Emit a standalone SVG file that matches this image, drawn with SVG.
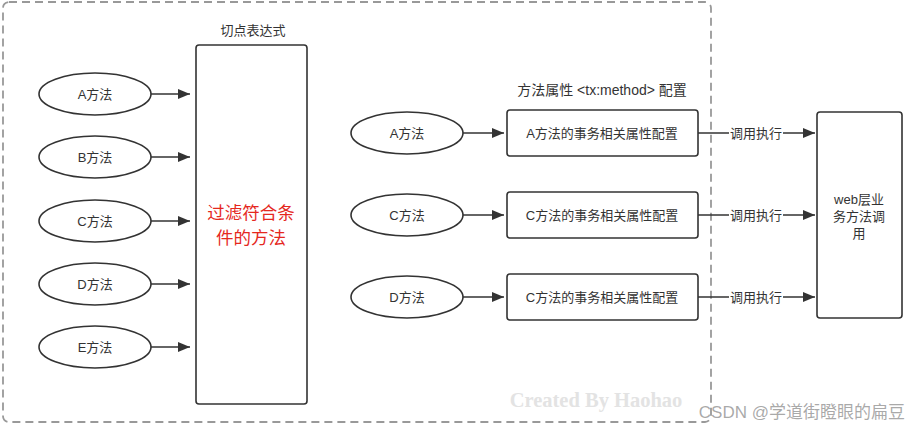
<svg xmlns="http://www.w3.org/2000/svg" width="908" height="428" viewBox="0 0 908 428">
<defs>
<style>
.t{font-family:"Liberation Sans","Noto Sans CJK SC",sans-serif;font-size:13px;fill:#333;text-anchor:middle;dominant-baseline:central}
.n{fill:#fff;stroke:#333;stroke-width:1.6}
.c{stroke:#333;stroke-width:1.6;fill:none;marker-end:url(#ah)}
</style>
<marker id="ah" viewBox="0 0 12 10" refX="12" refY="5" markerWidth="12" markerHeight="10" markerUnits="userSpaceOnUse" orient="auto">
<path d="M0,0 L12,5 L0,10 Z" fill="#333"/>
</marker>
</defs>
<rect width="908" height="428" fill="#fff"/>
<rect x="3" y="2" width="708" height="420" rx="6" fill="none" stroke="#999" stroke-width="1.8" stroke-dasharray="8,5"/>
<text class="t" x="253" y="30">切点表达式</text>
<text class="t" x="602" y="90" style="font-size:14px">方法属性 &lt;tx:method&gt; 配置</text>
<g id="filter"><rect class="n" x="196" y="45" width="111" height="359" rx="3"/>
<text class="t" x="251" y="213" style="fill:#e5281e;font-size:17.5px">过滤符合条</text>
<text class="t" x="251" y="238" style="fill:#e5281e;font-size:17.5px">件的方法</text></g>
<g id="lA"><ellipse class="n" cx="95" cy="94" rx="56" ry="21"/><text class="t" x="95" y="94">A方法</text></g>
<g id="lB"><ellipse class="n" cx="95" cy="157" rx="56" ry="21"/><text class="t" x="95" y="157">B方法</text></g>
<g id="lC"><ellipse class="n" cx="95" cy="221" rx="56" ry="21"/><text class="t" x="95" y="221">C方法</text></g>
<g id="lD"><ellipse class="n" cx="95" cy="284" rx="56" ry="21"/><text class="t" x="95" y="284">D方法</text></g>
<g id="lE"><ellipse class="n" cx="95" cy="347" rx="56" ry="21"/><text class="t" x="95" y="347">E方法</text></g>
<g id="mA"><ellipse class="n" cx="407" cy="133" rx="56" ry="21"/><text class="t" x="407" y="133">A方法</text></g>
<g id="mC"><ellipse class="n" cx="407" cy="215" rx="56" ry="21"/><text class="t" x="407" y="215">C方法</text></g>
<g id="mD"><ellipse class="n" cx="407" cy="297" rx="56" ry="21"/><text class="t" x="407" y="297">D方法</text></g>
<g id="cA"><rect class="n" x="507" y="110" width="191" height="46" rx="3"/><text class="t" x="602" y="133">A方法的事务相关属性配置</text></g>
<g id="cC"><rect class="n" x="507" y="192" width="191" height="46" rx="3"/><text class="t" x="602" y="215">C方法的事务相关属性配置</text></g>
<g id="cD"><rect class="n" x="507" y="274" width="191" height="46" rx="3"/><text class="t" x="602" y="297">C方法的事务相关属性配置</text></g>
<g id="web"><rect class="n" x="817" y="112" width="85" height="206" rx="3"/>
<text class="t" x="859" y="199">web层业</text><text class="t" x="859" y="216">务方法调</text><text class="t" x="859" y="233">用</text></g>
<g id="connectors">
<line class="c" x1="151" y1="94" x2="190" y2="94"/>
<line class="c" x1="151" y1="157" x2="190" y2="157"/>
<line class="c" x1="151" y1="221" x2="190" y2="221"/>
<line class="c" x1="151" y1="284" x2="190" y2="284"/>
<line class="c" x1="151" y1="347" x2="190" y2="347"/>
<line class="c" x1="463" y1="133" x2="504" y2="133"/>
<line class="c" x1="463" y1="215" x2="504" y2="215"/>
<line class="c" x1="463" y1="297" x2="504" y2="297"/>
<line class="c" x1="698" y1="133" x2="815" y2="133"/>
<line class="c" x1="698" y1="215" x2="815" y2="215"/>
<line class="c" x1="698" y1="297" x2="815" y2="297"/>
<rect x="729" y="125" width="54" height="16" fill="#fff"/><text class="t" x="756" y="133">调用执行</text>
<rect x="729" y="207" width="54" height="16" fill="#fff"/><text class="t" x="756" y="215">调用执行</text>
<rect x="729" y="289" width="54" height="16" fill="#fff"/><text class="t" x="756" y="297">调用执行</text>
</g>
<text x="596" y="400" style="font-family:'Liberation Serif',serif;font-weight:bold;font-size:20.5px;fill:#e3e3e3;text-anchor:middle;dominant-baseline:central">Created By Haohao</text>
<text x="905" y="412" style="font-family:'Liberation Sans','Noto Sans CJK SC',sans-serif;font-size:17px;fill:#9a9a9a;fill-opacity:0.85;text-anchor:end;dominant-baseline:central">CSDN @学道街瞪眼的扁豆</text>
</svg>
